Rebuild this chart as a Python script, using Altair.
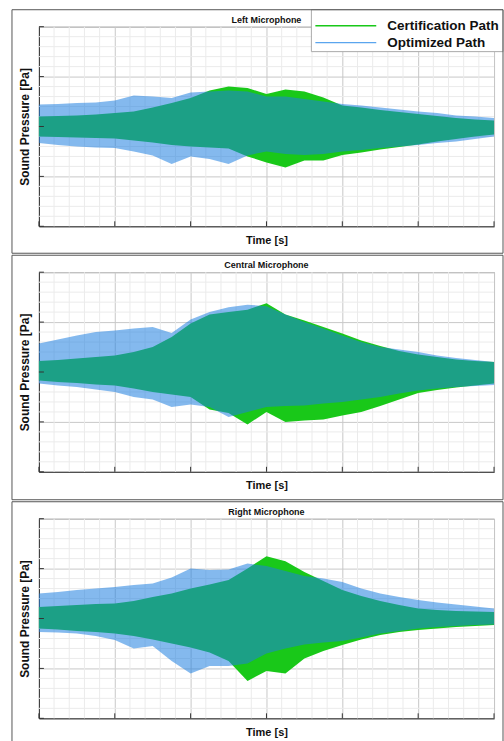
import altair as alt
import pandas as pd

# ---------------- data ----------------
PANELS = ["Left Microphone", "Central Microphone", "Right Microphone"]
SERIES = ["Certification Path", "Optimized Path"]

TIME = [0, 0.25, 0.5, 0.75, 1, 1.25, 1.5, 1.75, 2, 2.25, 2.5, 2.75, 3,
        3.25, 3.5, 3.75, 4, 4.25, 4.5, 4.75, 5, 5.25, 5.5, 5.75, 6]

# envelopes (upper / lower) of the pressure signals
LEFT_CERT_UP = [0.2, 0.21, 0.22, 0.24, 0.27, 0.3, 0.38, 0.47, 0.57, 0.72, 0.8, 0.77, 0.65,
                0.74, 0.7, 0.58, 0.42, 0.38, 0.33, 0.29, 0.25, 0.21, 0.17, 0.14, 0.12]
LEFT_CERT_LO = [-0.2, -0.21, -0.22, -0.23, -0.24, -0.28, -0.32, -0.37, -0.4, -0.42, -0.44, -0.6, -0.72,
                -0.82, -0.68, -0.68, -0.57, -0.52, -0.46, -0.41, -0.36, -0.3, -0.25, -0.2, -0.16]
LEFT_OPT_UP = [0.44, 0.45, 0.47, 0.48, 0.52, 0.62, 0.6, 0.57, 0.68, 0.7, 0.72, 0.7, 0.6,
               0.6, 0.55, 0.5, 0.45, 0.42, 0.38, 0.34, 0.3, 0.27, 0.22, 0.2, 0.17]
LEFT_OPT_LO = [-0.33, -0.37, -0.4, -0.42, -0.43, -0.5, -0.58, -0.75, -0.6, -0.65, -0.75, -0.58, -0.5,
               -0.55, -0.57, -0.55, -0.5, -0.47, -0.43, -0.4, -0.37, -0.33, -0.3, -0.25, -0.2]

CENTRAL_CERT_UP = [0.22, 0.24, 0.27, 0.3, 0.33, 0.4, 0.5, 0.7, 0.97, 1.15, 1.2, 1.25, 1.38,
                   1.15, 1.03, 0.9, 0.77, 0.63, 0.52, 0.42, 0.35, 0.3, 0.25, 0.22, 0.2]
CENTRAL_CERT_LO = [-0.17, -0.2, -0.22, -0.25, -0.27, -0.33, -0.4, -0.45, -0.5, -0.75, -0.82, -1.05, -0.8,
                   -1.0, -0.97, -0.95, -0.87, -0.8, -0.68, -0.55, -0.42, -0.36, -0.31, -0.27, -0.23]
CENTRAL_OPT_UP = [0.57, 0.65, 0.73, 0.8, 0.83, 0.87, 0.9, 0.78, 1.05, 1.2, 1.3, 1.35, 1.32,
                  1.15, 1.0, 0.87, 0.73, 0.6, 0.5, 0.45, 0.4, 0.33, 0.28, 0.24, 0.2]
CENTRAL_OPT_LO = [-0.23, -0.27, -0.3, -0.35, -0.4, -0.5, -0.55, -0.7, -0.65, -0.7, -0.9, -0.8, -0.7,
                  -0.68, -0.67, -0.63, -0.6, -0.55, -0.5, -0.43, -0.37, -0.33, -0.3, -0.28, -0.26]

RIGHT_CERT_UP = [0.23, 0.25, 0.27, 0.29, 0.3, 0.35, 0.43, 0.5, 0.6, 0.68, 0.77, 1.0, 1.25,
                 1.15, 0.93, 0.75, 0.57, 0.45, 0.35, 0.27, 0.2, 0.17, 0.15, 0.14, 0.13]
RIGHT_CERT_LO = [-0.2, -0.22, -0.25, -0.27, -0.3, -0.35, -0.42, -0.5, -0.58, -0.68, -0.85, -1.25, -1.05,
                 -1.1, -0.8, -0.65, -0.53, -0.42, -0.33, -0.27, -0.23, -0.2, -0.17, -0.15, -0.13]
RIGHT_OPT_UP = [0.5, 0.53, 0.57, 0.6, 0.63, 0.67, 0.7, 0.82, 1.0, 0.97, 0.98, 1.1, 1.05,
                0.95, 0.85, 0.8, 0.73, 0.6, 0.5, 0.43, 0.37, 0.32, 0.28, 0.24, 0.2]
RIGHT_OPT_LO = [-0.27, -0.28, -0.3, -0.35, -0.43, -0.6, -0.55, -0.85, -1.1, -0.95, -0.95, -0.9, -0.7,
                -0.6, -0.52, -0.48, -0.45, -0.38, -0.3, -0.25, -0.2, -0.17, -0.15, -0.13, -0.12]

X_MAJOR = [0, 1, 2, 3, 4, 5, 6]
X_MINOR = [0.2, 0.4, 0.6, 0.8, 1.2, 1.4, 1.6, 1.8, 2.2, 2.4, 2.6, 2.8, 3.2, 3.4, 3.6, 3.8,
           4.2, 4.4, 4.6, 4.8, 5.2, 5.4, 5.6, 5.8]
Y_MAJOR = [-2, -1, 0, 1, 2]
Y_MINOR = [-1.8, -1.6, -1.4, -1.2, -0.8, -0.6, -0.4, -0.2, 0.2, 0.4, 0.6, 0.8, 1.2, 1.4, 1.6, 1.8]

# ---------------- styling ----------------
GREEN = "#19c819"
BLUE = "#1f7fe0"
FONT = "Liberation Sans"
W, H = 456, 200

xs = alt.Scale(domain=[0, 6], nice=False, zero=False)
ys = alt.Scale(domain=[-2, 2], nice=False, zero=False)

xaxis = alt.Axis(values=X_MAJOR, labels=False, ticks=False, grid=True, gridColor="#c8c8c8",
                 gridWidth=1, domainColor="#333333", domainWidth=1, title="Time [s]",
                 titleFont=FONT, titleFontSize=11, titleFontWeight="bold", titleColor="#111111",
                 titlePadding=8)
yaxis = alt.Axis(values=Y_MAJOR, labels=False, ticks=False, grid=True, gridColor="#c8c8c8",
                 gridWidth=1, domainColor="#333333", domainWidth=1, title="Sound Pressure [Pa]",
                 titleFont=FONT, titleFontSize=12, titleFontWeight="bold", titleColor="#111111",
                 titlePadding=7)

one = pd.DataFrame({"k": [0]})


def panel(idx, cu, cl, ou, ol, frame_bottom, legend=False):
    df = pd.DataFrame({"t": TIME, "cu": cu, "cl": cl, "ou": ou, "ol": ol})

    minor_x = alt.Chart(pd.DataFrame({"v": X_MINOR})).mark_rule(
        color="#ebebeb", strokeWidth=1).encode(x=alt.X("v:Q", scale=xs, axis=xaxis))
    minor_y = alt.Chart(pd.DataFrame({"v": Y_MINOR})).mark_rule(
        color="#ebebeb", strokeWidth=1).encode(y=alt.Y("v:Q", scale=ys, axis=yaxis))

    cert = alt.Chart(df).mark_area(color=GREEN, opacity=1).encode(
        x=alt.X("t:Q", scale=xs, axis=xaxis),
        y=alt.Y("cu:Q", scale=ys, axis=yaxis), y2="cl:Q")
    opt = alt.Chart(df).mark_area(color=BLUE, opacity=0.55).encode(
        x=alt.X("t:Q", scale=xs, axis=xaxis),
        y=alt.Y("ou:Q", scale=ys, axis=yaxis), y2="ol:Q")

    tick_x = alt.Chart(pd.DataFrame({"v": X_MAJOR})).mark_rule(
        color="#333333", strokeWidth=1).encode(
        x=alt.X("v:Q", scale=xs, axis=xaxis), y=alt.value(H), y2=alt.value(H - 5))
    tick_y = alt.Chart(pd.DataFrame({"v": Y_MAJOR})).mark_rule(
        color="#333333", strokeWidth=1).encode(
        y=alt.Y("v:Q", scale=ys, axis=yaxis), x=alt.value(0), x2=alt.value(5))

    title = alt.Chart(pd.DataFrame({"name": [PANELS[idx]]})).mark_text(
        font=FONT, fontSize=9, fontWeight="bold", color="#111111", baseline="middle").encode(
        x=alt.value(W / 2), y=alt.value(-7), text="name:N")

    frame = alt.Chart(one).mark_rect(
        fill="transparent", stroke="#555555", strokeWidth=1, clip=False).encode(
        x=alt.value(-27), x2=alt.value(465), y=alt.value(-17), y2=alt.value(frame_bottom))

    layers = [minor_x, minor_y, cert, opt, tick_x, tick_y, title]

    if legend:
        box = alt.Chart(one).mark_rect(fill="white", stroke="#aaaaaa", strokeWidth=1).encode(
            x=alt.value(273), x2=alt.value(465), y=alt.value(-17), y2=alt.value(25))
        l1 = alt.Chart(one).mark_rule(color=GREEN, strokeWidth=1.5).encode(
            x=alt.value(277), x2=alt.value(338), y=alt.value(-1))
        l2 = alt.Chart(one).mark_rule(color="#5aa5ee", strokeWidth=1.2).encode(
            x=alt.value(277), x2=alt.value(338), y=alt.value(16))
        t1 = alt.Chart(pd.DataFrame({"name": [SERIES[0]]})).mark_text(
            align="left", baseline="middle", font=FONT, fontSize=13.5, fontWeight="bold",
            color="#111111").encode(x=alt.value(349), y=alt.value(-1), text="name:N")
        t2 = alt.Chart(pd.DataFrame({"name": [SERIES[1]]})).mark_text(
            align="left", baseline="middle", font=FONT, fontSize=13.5, fontWeight="bold",
            color="#111111").encode(x=alt.value(349), y=alt.value(16), text="name:N")
        layers += [box, l1, l2, t1, t2]

    layers.append(frame)
    return alt.layer(*layers).properties(width=W, height=H)


p1 = panel(0, LEFT_CERT_UP, LEFT_CERT_LO, LEFT_OPT_UP, LEFT_OPT_LO, 227, legend=True)
p2 = panel(1, CENTRAL_CERT_UP, CENTRAL_CERT_LO, CENTRAL_OPT_UP, CENTRAL_OPT_LO, 228)
p3 = panel(2, RIGHT_CERT_UP, RIGHT_CERT_LO, RIGHT_OPT_UP, RIGHT_OPT_LO, 227)

chart = alt.vconcat(p1, p2, p3, spacing=0).properties(
    padding={"left": 11, "top": 8, "right": 0, "bottom": 0},
    background="white",
).configure_view(stroke="#999999")

chart.save("out.html", embed_options={"renderer": "svg", "actions": False})
